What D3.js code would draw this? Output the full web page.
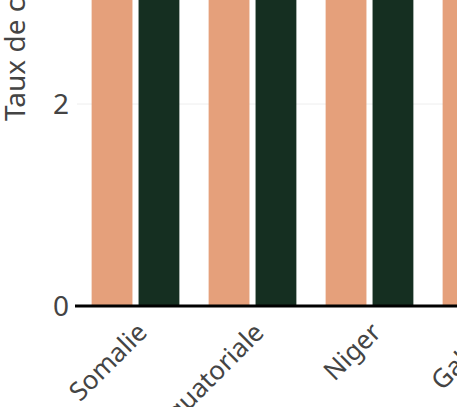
<!DOCTYPE html>
<html>
<head>
<meta charset="utf-8">
<script src="https://cdn.jsdelivr.net/npm/d3@7"></script>
<style>
  html, body { margin: 0; padding: 0; background: #fff; overflow: hidden; }
  text { font-family: "Noto Sans", sans-serif; fill: #444; }
</style>
</head>
<body>
<svg id="viz" width="457" height="407"></svg>
<script>
var categories = ["Somalie", "Guinée équatoriale", "Niger", "Gabon", "Angola"];
var seriesNames = ["2000", "2020"];
var valuesA = [3.6, 3.9, 3.7, 3.4, 3.5];
var valuesB = [3.9, 3.7, 3.8, 3.3, 3.4];
var yTicks = [0, 2, 4];
var yTitle = "Taux de croissance démographique (%)";

function drawChart() {
	var margin = { left: 77, top: -99 };
	var innerWidth = 585;
	var innerHeight = 405;
	var colors = ["#e5a07b", "#152f21"];
	var fontSize = "28px";

	var rows = categories.map(function (c, i) {
		return { cat: c, vals: [valuesA[i], valuesB[i]] };
	});

	var x0 = d3.scaleBand().domain(categories).range([0, innerWidth])
		.paddingInner(0.25).paddingOuter(0.125);
	var x1 = d3.scaleBand().domain(seriesNames).range([0, x0.bandwidth()])
		.paddingInner(0.13);
	var y = d3.scaleLinear().domain([0, 4]).range([innerHeight, 0]);

	var svg = d3.select("#viz");

	// y title
	svg.append("text")
		.attr("transform", "translate(25,121) rotate(-90)")
		.attr("text-anchor", "start")
		.style("font-size", fontSize)
		.text(yTitle);

	var g = svg.append("g")
		.attr("transform", "translate(" + margin.left + "," + margin.top + ")");

	// grid + y tick labels
	var yAxis = d3.axisLeft(y).tickValues(yTicks).tickFormat(d3.format("d"))
		.tickSize(-innerWidth).tickPadding(8);
	var gy = g.append("g").call(yAxis);
	gy.select(".domain").remove();
	gy.selectAll(".tick line").attr("stroke", "#eee").attr("stroke-width", 1);
	gy.selectAll(".tick text")
		.style("font-size", fontSize)
		.attr("fill", "#444")
		.attr("dy", "0.35em");

	// bars
	var groups = g.selectAll(".grp").data(rows).enter().append("g")
		.attr("class", "grp")
		.attr("transform", function (d) { return "translate(" + x0(d.cat) + ",0)"; });

	groups.selectAll("rect")
		.data(function (d) { return d.vals.map(function (v, i) { return { s: seriesNames[i], v: v, i: i }; }); })
		.enter().append("rect")
		.attr("x", function (d) { return x1(d.s); })
		.attr("y", function (d) { return y(d.v); })
		.attr("width", x1.bandwidth())
		.attr("height", function (d) { return y(0) - y(d.v); })
		.attr("fill", function (d) { return colors[d.i]; });

	// x axis with zero line
	var xAxis = d3.axisBottom(x0).tickSize(0).tickPadding(0);
	var gx = g.append("g")
		.attr("transform", "translate(0," + y(0) + ")")
		.call(xAxis);
	gx.select(".domain").remove();
	gx.append("line")
		.attr("x1", -2).attr("x2", innerWidth)
		.attr("stroke", "#000").attr("stroke-width", 3);
	gx.selectAll(".tick text")
		.style("font-size", "26px")
		.attr("fill", "#444")
		.attr("text-anchor", "end")
		.attr("y", 0).attr("dy", 0)
		.attr("transform", "translate(13,28) rotate(-45)");
}

drawChart();
</script>
</body>
</html>
